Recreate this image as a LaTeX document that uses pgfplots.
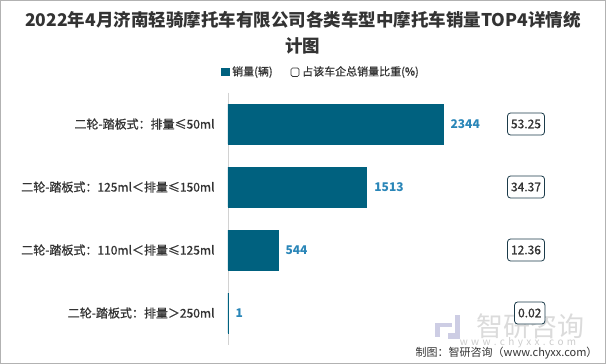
\documentclass[border=0pt]{standalone}
\usepackage{pgfplots}
\pgfplotsset{compat=1.18}
\usepackage{fontspec}
\setmainfont{Noto Sans CJK SC}
\newfontfamily\medfont[FakeBold=0.8]{Noto Sans CJK SC}
\definecolor{barc}{HTML}{00617F}
\definecolor{valc}{HTML}{2A86B8}
\definecolor{boxc}{HTML}{1B3B4A}
\definecolor{txt}{HTML}{333333}
\begin{document}
\begin{tikzpicture}
\useasboundingbox (0,0) rectangle (606pt,364pt);
\draw[gray!60, line width=1pt] (0.5pt,0.5pt) rectangle (605.5pt,363.5pt);
\node[font=\fontsize{17.5}{26}\selectfont\bfseries, align=center, text=txt] at (303pt,331pt) {2022年4月济南轻骑摩托车有限公司各类车型中摩托车销量TOP4详情统\\计图};
% legend
\fill[barc] (221pt,287.5pt) rectangle (229.5pt,296pt);
\node[anchor=west, font=\medfont\fontsize{11}{13}\selectfont, text=txt, inner sep=0pt] at (232pt,292pt) {销量(辆)};
\draw[txt, line width=0.7pt, rounded corners=1.5pt] (291pt,287.5pt) rectangle (299pt,296pt);
\node[anchor=west, font=\medfont\fontsize{11}{13}\selectfont, text=txt, inner sep=0pt] at (302pt,292pt) {占该车企总销量比重(\%)};
% watermark
\node[font=\fontsize{27}{30}\selectfont, text=gray!28] at (530pt,38pt) {智研咨询};
\node[font=\fontsize{10}{12}\selectfont, text=gray!40] at (518pt,21pt) {w\,\,w\,\,w\,\,.\,\,c\,\,h\,\,y\,\,x\,\,x\,\,.\,\,c\,\,o\,\,m};
\fill[blue!30!gray!30] (435pt,37pt) rectangle (452pt,41pt);
\fill[blue!30!gray!30] (435pt,27pt) rectangle (440pt,37pt);
\fill[blue!30!gray!30] (448pt,25pt) rectangle (460pt,31pt);
\fill[blue!30!gray!30] (455pt,31pt) rectangle (460pt,49pt);
\node[anchor=east, font=\fontsize{11}{13}\selectfont, text=txt] at (601pt,11pt) {制图：智研咨询（www.chyxx.com）};
\begin{axis}[
 at={(228pt,19.5pt)}, anchor=south west,
 scale only axis, width=360pt, height=252pt,
 xmin=0, xmax=3925, ymin=-0.5, ymax=3.5, y dir=reverse,
 axis x line=none, axis y line=left,
 y axis line style={draw=gray!35, -, line width=0.8pt},
 ytick={0,1,2,3},
 yticklabels={二轮-踏板式：排量≤50ml, 二轮-踏板式：125ml＜排量≤150ml, 二轮-踏板式：110ml＜排量≤125ml, 二轮-踏板式：排量＞250ml},
 yticklabel style={font=\medfont\fontsize{12}{14}\selectfont, text=txt, xshift=-10pt},
 major tick length=0pt,
 /pgf/number format/assume math mode=true,
 /pgf/number format/1000 sep={},
 clip=false,
]
\addplot[xbar, bar width=40pt, fill=barc, draw=barc, line width=0.6pt,
  nodes near coords,
  nodes near coords style={font=\bfseries\fontsize{12}{14}\selectfont, text=valc, anchor=west, xshift=4pt}]
  coordinates {(2344,0) (1513,1) (544,2) (1,3)};
\addplot[draw=none, mark=none, point meta=explicit symbolic,
  nodes near coords,
  nodes near coords style={anchor=center, draw=boxc, fill=white, rounded corners=3pt, line width=0.8pt,
    font=\medfont\fontsize{12}{14}\selectfont, text=txt, inner xsep=3.5pt, minimum height=22pt}]
  coordinates {(3249,0) [53.25] (3249,1) [34.37] (3249,2) [12.36] (3290,3) [0.02]};
\end{axis}
\end{tikzpicture}
\end{document}
